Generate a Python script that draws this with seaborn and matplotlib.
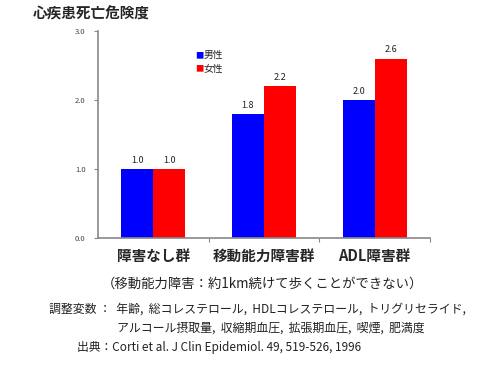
import matplotlib
matplotlib.use("Agg")
import matplotlib.pyplot as plt
import seaborn as sns
import pandas as pd

# --- data ---
groups = ["障害なし群", "移動能力障害群", "ADL障害群"]
sexes = ["男性", "女性"]
male_risk = [1.0, 1.8, 2.0]
female_risk = [1.0, 2.2, 2.6]
colors = {"男性": "#0000ff", "女性": "#ff0000"}

df = pd.DataFrame({
    "group": groups * 2,
    "sex": [sexes[0]] * 3 + [sexes[1]] * 3,
    "risk": male_risk + female_risk,
})

sns.set_theme(style="white")
plt.rcParams["font.family"] = ["Noto Sans CJK JP", "DejaVu Sans"]

fig = plt.figure(figsize=(5, 3.67), dpi=100)
ax = fig.add_axes([0.196, 0.3515, 0.664, 0.564])

sns.barplot(data=df, x="group", y="risk", hue="sex", palette=colors,
            width=0.58, saturation=1, linewidth=0, ax=ax, legend=False)

for cont in ax.containers:
    ax.bar_label(cont, fmt="%.1f", padding=3, fontsize=6.5, color="#222222")

ax.set_ylim(0, 3.0)
ax.set_xlim(-0.5, 2.5)
ax.set_yticks([0, 1, 2, 3])
ax.set_yticklabels(["0.0", "1.0", "2.0", "3.0"], fontsize=5.5, color="#444444")
ax.tick_params(axis="y", length=3, width=0.8, color="#888888", pad=6, left=True)
ax.set_xticks([0, 1, 2])
ax.set_xticklabels(groups, fontsize=10.5, fontweight="bold")
ax.tick_params(axis="x", length=0, pad=7)
ax.set_xticks([0.5, 1.5, 2.5], minor=True)
ax.tick_params(axis="x", which="minor", length=3, width=0.8, color="#888888", bottom=True)
ax.set_xlabel("")
ax.set_ylabel("")
for side in ["top", "right"]:
    ax.spines[side].set_visible(False)
for side in ["left", "bottom"]:
    ax.spines[side].set_color("#888888")
    ax.spines[side].set_linewidth(1.2)

# legend
for i, s in enumerate(sexes):
    fig.text(0.391, 0.849 - i * 0.036, "■", color=colors[s], fontsize=6,
             va="center", ha="left")
    fig.text(0.407, 0.849 - i * 0.036, s, fontsize=7, va="center", ha="left",
             color="#222222")

fig.text(0.066, 0.962, "心疾患死亡危険度", fontsize=10.5, fontweight="bold",
         va="center", ha="left")
fig.text(0.525, 0.228, "（移動能力障害：約1km続けて歩くことができない）",
         fontsize=9.6, va="center", ha="center", color="#222222")
fig.text(0.098, 0.158, "調整変数 ：  年齢,  総コレステロール,  HDLコレステロール,  トリグリセライド,",
         fontsize=8.6, va="center", ha="left", color="#222222")
fig.text(0.234, 0.106, "アルコール摂取量,  収縮期血圧,  拡張期血圧,  喫煙,  肥満度",
         fontsize=8.6, va="center", ha="left", color="#222222")
fig.text(0.154, 0.054, "出典：Corti et al. J Clin Epidemiol. 49, 519-526, 1996",
         fontsize=8.5, va="center", ha="left", color="#222222")

fig.savefig("out.png", dpi=100)
